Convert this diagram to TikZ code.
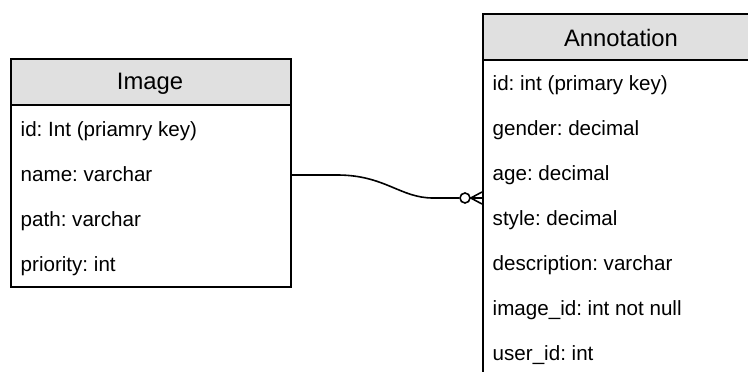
\documentclass[tikz,border=0pt]{standalone}
\usepackage{fontspec}
\setmainfont{Liberation Sans}
\frenchspacing
\definecolor{hdr}{HTML}{E0E0E0}
\begin{document}
\begin{tikzpicture}[x=1pt,y=-1pt,
  boxline/.style={draw=black,line width=1.6pt},
  hdrbox/.style={boxline,fill=hdr},
  rowtext/.style={anchor=base west,inner sep=0pt,font=\fontsize{20.6}{24}\selectfont\frenchspacing},
  hdrtext/.style={anchor=base,inner sep=0pt,font=\fontsize{23.8}{28}\selectfont},
  link/.style={draw=black,line width=1.6pt}]
\useasboundingbox (0,0) rectangle (748,372);
\clip (0,0) rectangle (748,372);
% Image table
\node[boxline,minimum width=280pt,minimum height=182pt,anchor=north west,inner sep=0pt] (img) at (10,104) {};
\node[hdrbox,minimum width=280pt,minimum height=46pt,anchor=north west,inner sep=0pt] (imghdr) at (10,58) {};
\node[hdrtext] (imgt) at (150,89) {Image};
\node[rowtext] (i1) at (20.5,136) {id: Int (priamry key)};
\node[rowtext] (i2) at (20.5,181) {name: varchar};
\node[rowtext] (i3) at (20.5,226) {path: varchar};
\node[rowtext] (i4) at (20.5,271) {priority: int};
% Annotation table
\node[boxline,minimum width=278pt,minimum height=330pt,anchor=north west,inner sep=0pt] (ann) at (482,59) {};
\node[hdrbox,minimum width=278pt,minimum height=46pt,anchor=north west,inner sep=0pt] (annhdr) at (482,13) {};
\node[hdrtext] (annt) at (621,46) {Annotation};
\node[rowtext] (a1) at (492.5,90) {id: int (primary key)};
\node[rowtext] (a2) at (492.5,135) {gender: decimal};
\node[rowtext] (a3) at (492.5,180) {age: decimal};
\node[rowtext] (a4) at (492.5,225) {style: decimal};
\node[rowtext] (a5) at (492.5,270) {description: varchar};
\node[rowtext] (a6) at (492.5,315) {image\_id: int not null};
\node[rowtext] (a7) at (492.5,360) {user\_id: int};
% connector
\coordinate (st) at (290,175);
\coordinate (en) at (482,198);
\node[circle,draw=black,line width=1.6pt,fill=white,minimum size=10pt,inner sep=0pt] (ring) at (465,198) {};
\draw[link] (img.east |- st) -- (337,175) .. controls (385,175) and (400,198) .. (433,198) -- (ring.west);
\draw[link] (ring.east) -- (ann.west |- en);
\draw[link] (ann.west |- 0,192) -- (ring.east) -- (ann.west |- 0,204);
\end{tikzpicture}
\end{document}
